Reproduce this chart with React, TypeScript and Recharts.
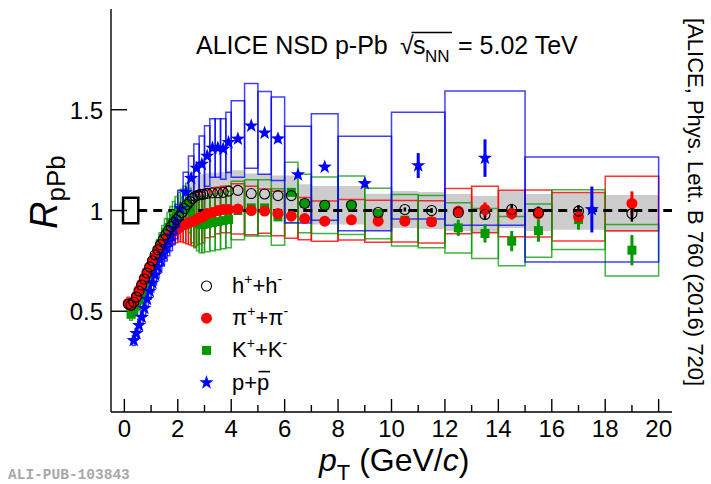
import React from 'react';
import {
  ComposedChart,
  Scatter,
  XAxis,
  YAxis,
  ErrorBar,
  ReferenceArea,
  ReferenceLine,
} from 'recharts';

// one row per pT bin: [pT low, pT high, R_pPb, stat. error, syst. error]
type Bin = [number, number, number, number, number];

const hadronBins: Bin[] = [
  [0.1, 0.2, 0.535, 0, 0.03], [0.2, 0.3, 0.53, 0, 0.03], [0.3, 0.4, 0.545, 0, 0.03],
  [0.4, 0.5, 0.57, 0, 0.03], [0.5, 0.6, 0.6, 0, 0.03], [0.6, 0.7, 0.63, 0, 0.03],
  [0.7, 0.8, 0.66, 0, 0.035], [0.8, 0.9, 0.69, 0, 0.035], [0.9, 1.0, 0.72, 0, 0.035],
  [1.0, 1.1, 0.75, 0, 0.04], [1.1, 1.2, 0.78, 0, 0.04], [1.2, 1.3, 0.805, 0, 0.045],
  [1.3, 1.4, 0.83, 0, 0.045], [1.4, 1.5, 0.855, 0, 0.05], [1.5, 1.6, 0.88, 0, 0.05],
  [1.6, 1.7, 0.9, 0, 0.055], [1.7, 1.8, 0.92, 0, 0.06], [1.8, 1.9, 0.94, 0, 0.065],
  [1.9, 2.0, 0.955, 0, 0.07], [2.0, 2.1, 0.97, 0, 0.075], [2.1, 2.2, 0.99, 0, 0.08],
  [2.2, 2.3, 1.01, 0, 0.085], [2.3, 2.4, 1.03, 0, 0.09], [2.4, 2.5, 1.045, 0, 0.09],
  [2.5, 2.6, 1.06, 0, 0.095], [2.6, 2.7, 1.07, 0, 0.095], [2.7, 2.8, 1.075, 0, 0.1],
  [2.8, 2.9, 1.08, 0, 0.1], [2.9, 3.0, 1.08, 0, 0.1], [3.0, 3.2, 1.085, 0, 0.1],
  [3.2, 3.4, 1.088, 0, 0.1], [3.4, 3.6, 1.088, 0, 0.1], [3.6, 3.8, 1.09, 0, 0.1],
  [3.8, 4.0, 1.096, 0, 0.1], [4.0, 4.5, 1.1, 0, 0.1], [4.5, 5.0, 1.084, 0, 0.1],
  [5.0, 5.5, 1.082, 0, 0.1], [5.5, 6.0, 1.074, 0, 0.1], [6.0, 6.5, 1.074, 0, 0.1],
  [6.5, 7.0, 1.035, 0, 0.095], [7, 8, 1.026, 0, 0.095], [8, 9, 1.026, 0.005, 0.095],
  [9, 10, 0.99, 0.008, 0.093], [10, 11, 1.005, 0.01, 0.092], [11, 12, 1.0, 0.012, 0.092],
  [12, 13, 0.99, 0.02, 0.092], [13, 14, 0.98, 0.025, 0.092], [14, 15, 1.005, 0.028, 0.092],
  [15, 16, 0.99, 0.03, 0.092], [16, 18, 0.997, 0.03, 0.092], [18, 20, 0.985, 0.04, 0.092],
];

const pionBins: Bin[] = [
  [0.1, 0.2, 0.54, 0, 0.03], [0.2, 0.3, 0.53, 0, 0.03], [0.3, 0.4, 0.545, 0, 0.03],
  [0.4, 0.5, 0.575, 0, 0.03], [0.5, 0.6, 0.605, 0, 0.03], [0.6, 0.7, 0.635, 0, 0.035],
  [0.7, 0.8, 0.665, 0, 0.035], [0.8, 0.9, 0.695, 0, 0.035], [0.9, 1.0, 0.72, 0, 0.04],
  [1.0, 1.1, 0.745, 0, 0.04], [1.1, 1.2, 0.77, 0, 0.045], [1.2, 1.3, 0.795, 0, 0.045],
  [1.3, 1.4, 0.815, 0, 0.05], [1.4, 1.5, 0.835, 0, 0.05], [1.5, 1.6, 0.855, 0, 0.055],
  [1.6, 1.7, 0.87, 0, 0.055], [1.7, 1.8, 0.885, 0, 0.06], [1.8, 1.9, 0.895, 0, 0.06],
  [1.9, 2.0, 0.905, 0, 0.065], [2.0, 2.1, 0.915, 0, 0.07], [2.1, 2.2, 0.925, 0, 0.08],
  [2.2, 2.3, 0.93, 0, 0.09], [2.3, 2.4, 0.935, 0, 0.1], [2.4, 2.5, 0.94, 0, 0.11],
  [2.5, 2.6, 0.945, 0, 0.12], [2.6, 2.7, 0.95, 0, 0.13], [2.7, 2.8, 0.96, 0, 0.13],
  [2.8, 2.9, 0.965, 0, 0.13], [2.9, 3.0, 0.97, 0, 0.13], [3.0, 3.2, 0.985, 0, 0.12],
  [3.2, 3.4, 0.99, 0, 0.12], [3.4, 3.6, 1.0, 0, 0.115], [3.6, 3.8, 1.005, 0, 0.115],
  [3.8, 4.0, 1.005, 0, 0.115], [4.0, 4.5, 1.008, 0.005, 0.125], [4.5, 5.0, 1.0, 0.005, 0.12],
  [5.0, 5.5, 0.997, 0.005, 0.11], [5.5, 6.0, 0.985, 0.005, 0.11], [6.0, 6.5, 0.972, 0.005, 0.11],
  [6.5, 7.0, 0.96, 0.005, 0.105], [7, 8, 0.947, 0.005, 0.1], [8, 9, 0.954, 0.008, 0.1],
  [9, 10, 0.947, 0.01, 0.104], [10, 11, 0.947, 0.012, 0.103], [11, 12, 0.944, 0.015, 0.105],
  [12, 13, 0.997, 0.02, 0.112], [13, 14, 1.005, 0.035, 0.115], [14, 15, 0.985, 0.03, 0.115],
  [15, 16, 0.985, 0.03, 0.117], [16, 18, 0.969, 0.03, 0.12], [18, 20, 1.035, 0.06, 0.135],
];

const kaonBins: Bin[] = [
  [0.2, 0.3, 0.485, 0, 0.03], [0.3, 0.4, 0.5, 0, 0.03], [0.4, 0.5, 0.525, 0, 0.03],
  [0.5, 0.6, 0.555, 0, 0.03], [0.6, 0.7, 0.59, 0, 0.035], [0.7, 0.8, 0.625, 0, 0.035],
  [0.8, 0.9, 0.66, 0, 0.04], [0.9, 1.0, 0.695, 0, 0.04], [1.0, 1.1, 0.73, 0, 0.045],
  [1.1, 1.2, 0.765, 0, 0.05], [1.2, 1.3, 0.8, 0, 0.055], [1.3, 1.4, 0.83, 0, 0.06],
  [1.4, 1.5, 0.86, 0, 0.065], [1.5, 1.6, 0.89, 0, 0.07], [1.6, 1.7, 0.915, 0, 0.075],
  [1.7, 1.8, 0.94, 0, 0.08], [1.8, 1.9, 0.96, 0, 0.085], [1.9, 2.0, 0.98, 0, 0.09],
  [2.0, 2.1, 0.995, 0, 0.095], [2.1, 2.2, 1.005, 0, 0.1], [2.2, 2.3, 1.02, 0, 0.1],
  [2.3, 2.4, 1.03, 0, 0.105], [2.4, 2.5, 1.0, 0, 0.11], [2.5, 2.6, 0.96, 0, 0.12],
  [2.6, 2.7, 0.945, 0, 0.13], [2.7, 2.8, 0.935, 0, 0.135], [2.8, 2.9, 0.93, 0, 0.14],
  [2.9, 3.0, 0.93, 0, 0.14], [3.0, 3.2, 0.935, 0, 0.14], [3.2, 3.4, 0.94, 0, 0.14],
  [3.4, 3.6, 0.945, 0, 0.14], [3.6, 3.8, 0.95, 0, 0.14], [3.8, 4.0, 0.955, 0, 0.14],
  [4.0, 4.5, 1.0, 0.005, 0.145], [4.5, 5.0, 1.013, 0.006, 0.14], [5.0, 5.5, 1.013, 0.008, 0.14],
  [5.5, 6.0, 0.968, 0.01, 0.14], [6.0, 6.5, 1.09, 0.012, 0.15], [6.5, 7.0, 1.035, 0.012, 0.145],
  [7, 8, 1.026, 0.012, 0.14], [8, 9, 1.026, 0.015, 0.145], [9, 10, 0.985, 0.018, 0.125],
  [10, 11, 0.952, 0.02, 0.128], [11, 12, 0.945, 0.025, 0.13], [12, 13, 0.914, 0.04, 0.125],
  [13, 14, 0.886, 0.045, 0.124], [14, 15, 0.848, 0.05, 0.122], [15, 16, 0.9, 0.055, 0.132],
  [16, 18, 0.955, 0.05, 0.148], [18, 20, 0.803, 0.075, 0.128],
];

const protonBins: Bin[] = [
  [0.3, 0.4, 0.355, 0, 0.025], [0.4, 0.5, 0.39, 0, 0.025], [0.5, 0.6, 0.43, 0, 0.03],
  [0.6, 0.7, 0.47, 0, 0.03], [0.7, 0.8, 0.515, 0, 0.035], [0.8, 0.9, 0.56, 0, 0.035],
  [0.9, 1.0, 0.6, 0, 0.04], [1.0, 1.1, 0.64, 0, 0.045], [1.1, 1.2, 0.68, 0, 0.05],
  [1.2, 1.3, 0.72, 0, 0.055], [1.3, 1.4, 0.755, 0, 0.06], [1.4, 1.5, 0.785, 0, 0.06],
  [1.5, 1.6, 0.815, 0, 0.065], [1.6, 1.7, 0.845, 0, 0.07], [1.7, 1.8, 0.875, 0, 0.075],
  [1.8, 1.9, 0.91, 0, 0.08], [1.9, 2.0, 0.945, 0, 0.085], [2.0, 2.2, 1.01, 0, 0.09],
  [2.2, 2.4, 1.09, 0, 0.1], [2.4, 2.6, 1.16, 0, 0.11], [2.6, 2.8, 1.21, 0, 0.12],
  [2.8, 3.0, 1.23, 0, 0.14], [3.0, 3.2, 1.27, 0, 0.15], [3.2, 3.4, 1.31, 0, 0.145],
  [3.4, 3.6, 1.31, 0, 0.145], [3.6, 3.8, 1.305, 0, 0.15], [3.8, 4.0, 1.338, 0, 0.15],
  [4.0, 4.5, 1.355, 0.01, 0.19], [4.5, 5.0, 1.42, 0.012, 0.21], [5.0, 5.5, 1.385, 0.015, 0.205],
  [5.5, 6.0, 1.356, 0.018, 0.207], [6, 7, 1.178, 0.012, 0.24], [7, 8, 1.216, 0.015, 0.264],
  [8, 10, 1.134, 0.02, 0.234], [10, 12, 1.223, 0.062, 0.265], [12, 15, 1.26, 0.093, 0.333],
  [15, 20, 1.005, 0.114, 0.26],
];

// normalisation uncertainty at R = 1
const normBox = { lo: -0.05, hi: 0.52, err: 0.063 };

const ptTicks = [0, 1, 2, 3, 4, 5, 6, 7, 8, 9, 10, 11, 12, 13, 14, 15, 16, 17, 18, 19, 20];
const rTicks = [0.5, 1, 1.5];
const ptDomain: [number, number] = [-0.5, 20.5];
const rDomain: [number, number] = [0, 2];

const W = 711;
const H = 484;
const FONT = '"Liberation Sans", Arial, Helvetica, sans-serif';

const RED = '#ff0000';
const GREEN = '#009900';
const BLUE = '#0000ff';

const toPoints = (bins: Bin[]) =>
  bins.map(([lo, hi, r, stat]) => ({ x: (lo + hi) / 2, y: r, err: stat }));

const sysBoxes = (bins: Bin[], id: string, style: object) =>
  bins.map(([lo, hi, r, , sys], i) => (
    <ReferenceArea
      key={`${id}-${i}`}
      x1={lo}
      x2={hi}
      y1={r - sys}
      y2={r + sys}
      ifOverflow="visible"
      {...style}
    />
  ));

const starPath = (cx: number, cy: number, ro: number, ri: number) => {
  let d = '';
  for (let i = 0; i < 10; i++) {
    const r = i % 2 === 0 ? ro : ri;
    const a = -Math.PI / 2 + (i * Math.PI) / 5;
    d += `${i === 0 ? 'M' : 'L'}${cx + r * Math.cos(a)},${cy + r * Math.sin(a)}`;
  }
  return d + 'Z';
};

// marker shapes
const OpenCircle = ({ cx, cy }: any) => (
  <circle cx={cx} cy={cy} r={5} fill="none" stroke="#000" strokeWidth={1.1} />
);
const FullCircle = ({ cx, cy }: any) => <circle cx={cx} cy={cy} r={5.5} fill={RED} />;
const FullSquare = ({ cx, cy }: any) => (
  <rect x={cx - 4.5} y={cy - 4.5} width={9} height={9} fill={GREEN} />
);
const FullStar = ({ cx, cy }: any) => <path d={starPath(cx, cy, 7.5, 3)} fill={BLUE} />;

// ROOT-style ticks pointing into the frame
const BottomTick = ({ x, y, payload }: any) => {
  const major = payload.value % 2 === 0;
  return (
    <g>
      <line x1={x} x2={x} y1={y} y2={y - (major ? 13 : 7)} stroke="#000" strokeWidth={1.4} />
      {major && (
        <text x={x} y={y + 25} textAnchor="middle" fontSize={24} fontFamily={FONT} fill="#000">
          {payload.value}
        </text>
      )}
    </g>
  );
};

const TopTick = ({ x, y, payload }: any) => {
  const major = payload.value % 2 === 0;
  return <line x1={x} x2={x} y1={y} y2={y + (major ? 13 : 7)} stroke="#000" strokeWidth={1.4} />;
};

const LeftTick = ({ x, y, payload }: any) => (
  <g>
    <line x1={x} x2={x + 16} y1={y} y2={y} stroke="#000" strokeWidth={1.4} />
    <text x={x - 8} y={y + 9} textAnchor="end" fontSize={24} fontFamily={FONT} fill="#000">
      {payload.value}
    </text>
  </g>
);

const RightTick = ({ x, y }: any) => (
  <line x1={x} x2={x - 16} y1={y} y2={y} stroke="#000" strokeWidth={1.4} />
);

const frame = { stroke: '#000', strokeWidth: 1.4 };

const legendRows = [
  { mark: OpenCircle, base: 'h', sup: ['+', '-'] },
  { mark: FullCircle, base: 'π', sup: ['+', '-'] },
  { mark: FullSquare, base: 'K', sup: ['+', '-'] },
  { mark: FullStar, base: 'p', sup: null },
];

function Legend() {
  return (
    <g fontFamily={FONT} fontSize={22} fill="#000">
      {legendRows.map((row, i) => {
        const cy = 286 + i * 32.2;
        const Mark = row.mark;
        return (
          <g key={i}>
            <Mark cx={206.5} cy={cy} />
            {row.sup ? (
              <text x={232} y={cy + 7}>
                {row.base}
                <tspan dy={-9} fontSize={14}>{row.sup[0]}</tspan>
                <tspan dy={9}>+{row.base}</tspan>
                <tspan dy={-9} fontSize={14}>{row.sup[1]}</tspan>
              </text>
            ) : (
              <g>
                <text x={232} y={cy + 7}>p+p</text>
                <line x1={258.5} x2={270} y1={cy - 11} y2={cy - 11} stroke="#000" strokeWidth={1.6} />
              </g>
            )}
          </g>
        );
      })}
    </g>
  );
}

function Annotations() {
  return (
    <svg
      width={W}
      height={H}
      style={{ position: 'absolute', left: 0, top: 0, pointerEvents: 'none' }}
    >
      <g fontFamily={FONT} fill="#000">
        <text x={196} y={54} fontSize={25}>ALICE NSD p-Pb</text>
        <text x={400} y={54} fontSize={25}>√</text>
        <line x1={411.5} x2={452} y1={32.5} y2={32.5} stroke="#000" strokeWidth={1.3} />
        <text x={413} y={54} fontSize={25}>s</text>
        <text x={425} y={62} fontSize={17}>NN</text>
        <text x={458} y={54} fontSize={25}>= 5.02 TeV</text>

        <text transform="translate(57,229) rotate(-90)" fontSize={38}>
          <tspan fontStyle="italic">R</tspan>
          <tspan dy={8} fontSize={26}>pPb</tspan>
        </text>

        <text x={319} y={471} fontSize={32}>
          <tspan fontStyle="italic">p</tspan>
          <tspan dy={9} fontSize={22}>T</tspan>
          <tspan dy={-9}> (GeV/</tspan>
          <tspan fontStyle="italic">c</tspan>
          <tspan>)</tspan>
        </text>

        <text transform="translate(688,18) rotate(90)" fontSize={22}>
          [ALICE, Phys. Lett. B 760 (2016) 720]
        </text>
      </g>
      <text
        x={8}
        y={479}
        fontFamily='"Liberation Mono", "DejaVu Sans Mono", monospace'
        fontWeight="bold"
        fontSize={14.5}
        fill="#a8a8a8"
      >
        ALI-PUB-103843
      </text>
      <Legend />
    </svg>
  );
}

export default function App() {
  return (
    <div style={{ position: 'absolute', left: 0, top: 0, width: W, height: H, background: '#fff' }}>
      <ComposedChart width={W} height={H} margin={{ top: 9, right: 39, left: 51, bottom: 0 }}>
        <XAxis
          xAxisId={0}
          dataKey="x"
          type="number"
          domain={ptDomain}
          allowDataOverflow
          ticks={ptTicks}
          interval={0}
          height={72}
          tickSize={0}
          tickMargin={0}
          axisLine={frame}
          tickLine={false}
          tick={(p: any) => <BottomTick {...p} />}
        />
        <XAxis
          xAxisId="top"
          orientation="top"
          dataKey="x"
          type="number"
          domain={ptDomain}
          allowDataOverflow
          ticks={ptTicks}
          interval={0}
          height={0}
          tickSize={0}
          tickMargin={0}
          axisLine={frame}
          tickLine={false}
          tick={(p: any) => <TopTick {...p} />}
        />
        <YAxis
          yAxisId={0}
          dataKey="y"
          type="number"
          domain={rDomain}
          allowDataOverflow
          ticks={rTicks}
          interval={0}
          width={60}
          tickSize={0}
          tickMargin={0}
          axisLine={frame}
          tickLine={false}
          tick={(p: any) => <LeftTick {...p} />}
        />
        <YAxis
          yAxisId="right"
          orientation="right"
          dataKey="y"
          type="number"
          domain={rDomain}
          allowDataOverflow
          ticks={rTicks}
          interval={0}
          width={0}
          tickSize={0}
          tickMargin={0}
          axisLine={frame}
          tickLine={false}
          tick={(p: any) => <RightTick {...p} />}
        />

        {sysBoxes(hadronBins, 'h', { fill: '#cccccc', fillOpacity: 1, stroke: 'none' })}
        {sysBoxes(pionBins, 'pi', { fill: 'none', stroke: RED, strokeOpacity: 0.8, strokeWidth: 1.5 })}
        {sysBoxes(kaonBins, 'k', { fill: 'none', stroke: GREEN, strokeOpacity: 0.75, strokeWidth: 1.5 })}
        {sysBoxes(protonBins, 'p', { fill: 'none', stroke: BLUE, strokeOpacity: 0.75, strokeWidth: 1.5 })}

        <ReferenceLine
          segment={[{ x: normBox.hi, y: 1 }, { x: ptDomain[1], y: 1 }]}
          stroke="#000"
          strokeWidth={3}
          strokeDasharray="9 6"
        />
        <ReferenceArea
          x1={normBox.lo}
          x2={normBox.hi}
          y1={1 - normBox.err}
          y2={1 + normBox.err}
          fill="#fff"
          fillOpacity={1}
          stroke="#000"
          strokeWidth={2.5}
          ifOverflow="visible"
        />

        <Scatter data={toPoints(kaonBins)} dataKey="y" isAnimationActive={false} shape={(p: any) => <FullSquare {...p} />}>
          <ErrorBar dataKey="err" direction="y" width={0} stroke={GREEN} strokeWidth={3} />
        </Scatter>
        <Scatter data={toPoints(pionBins)} dataKey="y" isAnimationActive={false} shape={(p: any) => <FullCircle {...p} />}>
          <ErrorBar dataKey="err" direction="y" width={0} stroke={RED} strokeWidth={3} />
        </Scatter>
        <Scatter data={toPoints(protonBins)} dataKey="y" isAnimationActive={false} shape={(p: any) => <FullStar {...p} />}>
          <ErrorBar dataKey="err" direction="y" width={0} stroke={BLUE} strokeWidth={3} />
        </Scatter>
        <Scatter data={toPoints(hadronBins)} dataKey="y" isAnimationActive={false} shape={(p: any) => <OpenCircle {...p} />}>
          <ErrorBar dataKey="err" direction="y" width={0} stroke="#000" strokeWidth={2.5} />
        </Scatter>
      </ComposedChart>
      <Annotations />
    </div>
  );
}
